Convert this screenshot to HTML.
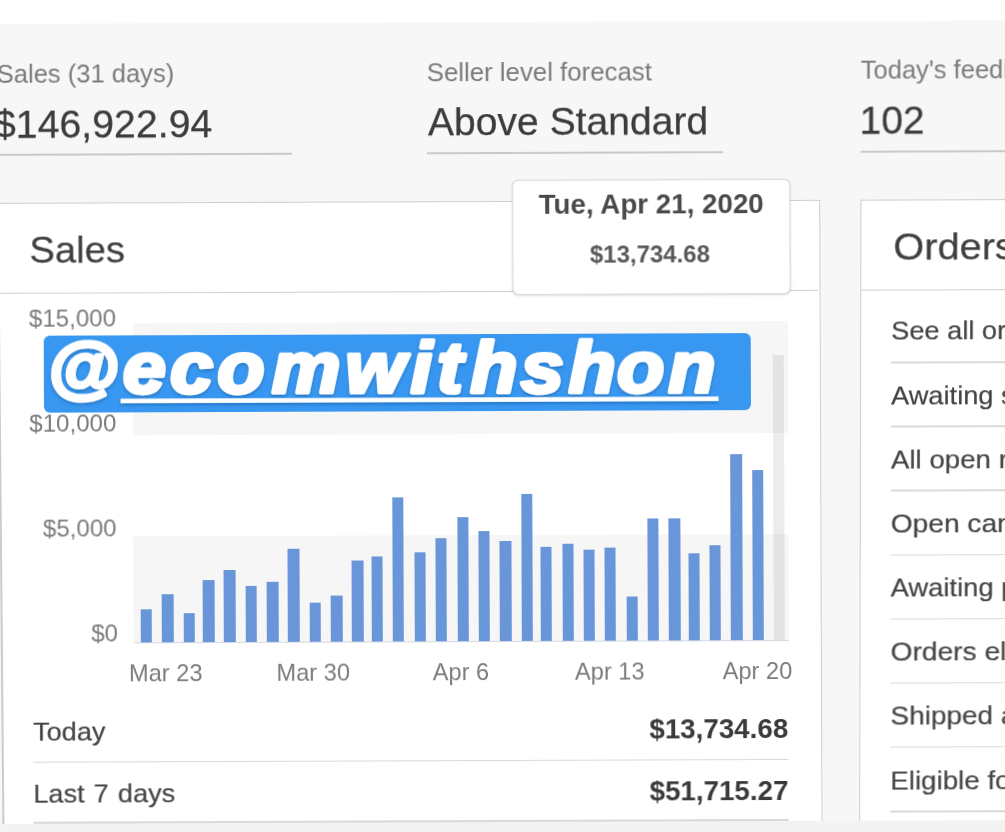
<!DOCTYPE html>
<html lang="en">
<head>
<meta charset="utf-8">
<title>Seller Hub - Sales</title>
<style>
html,body{margin:0;padding:0}
body{width:1005px;height:832px;overflow:hidden;background:#f7f7f7;position:relative;font-family:"Liberation Sans",Arial,Helvetica,sans-serif}
/* the reference is a slightly tilted photo: left part rotated, right column sheared */
.plane{position:absolute;left:0;top:0;width:1005px;height:832px;transform-origin:502.5px 416px;filter:blur(0.45px)}
#left{transform:rotate(-0.21deg)}
#right{transform:matrix(1,-0.003665,-0.002,1,0,0);clip-path:inset(-40px -60px -40px 841px)}
.plane *{position:absolute;box-sizing:border-box}
.plane i{font-style:normal;display:block}
.plane header,.plane .chart,.plane .totals{left:0;top:0;width:1005px;height:832px}
.topstrip{left:-30px;top:-30px;width:1065px;height:51.7px;background:#fff}
.botstrip{left:-30px;top:822.1px;width:1065px;height:40px;background:#f3f3f3}
.t{left:calc(var(--x)*1px);top:calc(var(--y)*1px - 0.3465em);line-height:0;white-space:nowrap;margin:0;font-weight:normal;transform-origin:0 50%;transform:scaleX(var(--sx,1.02))}
.t.r{left:auto;right:calc(1005px - var(--x)*1px);transform-origin:100% 50%}
.t.c{transform-origin:50% 50%;transform:translateX(-50%) scaleX(var(--sx,1.02))}
.lbl{font-size:26.2px;color:#7a7a7a;--sx:0.975}
.val{font-size:38.5px;color:#3c3c3c;-webkit-text-stroke:0.25px #3c3c3c}
.ul{height:1.5px;background:#c9c9c9}
.card{background:#fff;border:1.6px solid #cecece}
.hl{height:1.5px;background:#d9d9d9}
.h2{font-size:37.5px;color:#3f3f3f;-webkit-text-stroke:0.25px #3f3f3f}
.ax{font-size:23.6px;color:#7c7c7c}
.ax.c{--sx:1.0}
.row{font-size:26.3px;color:#444;word-spacing:1.6px;--sx:1.03;-webkit-text-stroke:0.2px #444}
.amt{font-size:27.2px;color:#3a3a3a;font-weight:bold !important}
.band{background:#f6f6f6}
.bar{width:11.4px;background:#6896d8}
.bar.g{background:rgba(0,0,0,0.075)}
.tip{background:#fff;border-radius:6px;border:1px solid #dcdcdc;box-shadow:0 1px 3px rgba(0,0,0,0.13),0 0 1px rgba(0,0,0,0.2)}
.tt{font-size:26.8px;color:#4a4a4a;font-weight:bold !important;--sx:1.035}
.tv{font-size:24px;color:#595959;font-weight:bold !important}
.lb{position:absolute;left:0.2px;top:190px;width:2.2px;height:634px;background:#cbcbcb;box-shadow:-5px 0 0 3px #f7f7f7;transform-origin:50% 100%;transform:translateX(2.4px) rotate(-0.5deg)}
.wm{background:#3897f0;border-radius:6px}
</style>
</head>
<body>

<!-- left / centre: summary, Sales card, chart -->
<div class="plane" id="left">
  <div class="topstrip"></div>

  <header>
    <span class="t lbl" style="--x:-2.5;--y:80.7">Sales (31 days)</span>
    <span class="t val" style="--x:-5;--y:136.2">$146,922.94</span>
    <i class="ul" style="left:-30px;top:152px;width:322.5px"></i>

    <span class="t lbl" style="--x:428;--y:80.9;--sx:0.985">Seller level forecast</span>
    <span class="t val" style="--x:428.5;--y:135.6;--sx:1.015">Above Standard</span>
    <i class="ul" style="left:427.5px;top:152px;width:296px"></i>
  </header>

  <section class="card" style="left:-5px;top:200.9px;width:826.2px;height:700px"></section>
  <i class="hl" style="left:-5px;top:290.5px;width:824px;background:#d0d0d0"></i>
  <h2 class="t h2" style="--x:30;--y:261">Sales</h2>

  <div class="chart">
    <i class="band" style="left:133.2px;top:321.7px;width:655.3px;height:112.8px"></i>
    <i class="band" style="left:133.2px;top:535px;width:655.3px;height:106.2px"></i>
    <i class="hl" style="left:133.2px;top:640.7px;width:655.3px;background:#d4d8e2"></i>
    <span class="t r ax" style="--x:116.3;--y:325.2">$15,000</span>
    <span class="t r ax" style="--x:116.3;--y:430.4">$10,000</span>
    <span class="t r ax" style="--x:116.3;--y:534.7">$5,000</span>
    <span class="t r ax" style="--x:117;--y:640.4">$0</span>
    <i class="bar" style="left:139.9px;top:608.0px;height:33.2px"></i>
    <i class="bar" style="left:161.4px;top:592.5px;height:48.7px"></i>
    <i class="bar" style="left:182.6px;top:612.1px;height:29.1px"></i>
    <i class="bar" style="left:202.2px;top:578.9px;height:62.3px"></i>
    <i class="bar" style="left:223.2px;top:569.3px;height:71.9px"></i>
    <i class="bar" style="left:244.7px;top:584.7px;height:56.5px"></i>
    <i class="bar" style="left:266.2px;top:580.8px;height:60.4px"></i>
    <i class="bar" style="left:287.4px;top:548.0px;height:93.2px"></i>
    <i class="bar" style="left:308.9px;top:602.3px;height:38.9px"></i>
    <i class="bar" style="left:330.4px;top:594.7px;height:46.5px"></i>
    <i class="bar" style="left:351.4px;top:559.9px;height:81.3px"></i>
    <i class="bar" style="left:371.0px;top:555.8px;height:85.4px"></i>
    <i class="bar" style="left:392.1px;top:497.4px;height:143.8px"></i>
    <i class="bar" style="left:413.8px;top:552.0px;height:89.2px"></i>
    <i class="bar" style="left:435.0px;top:538.4px;height:102.8px"></i>
    <i class="bar" style="left:456.5px;top:517.3px;height:123.9px"></i>
    <i class="bar" style="left:477.7px;top:530.7px;height:110.5px"></i>
    <i class="bar" style="left:499.3px;top:540.5px;height:100.7px"></i>
    <i class="bar" style="left:520.5px;top:493.8px;height:147.4px"></i>
    <i class="bar" style="left:540.1px;top:546.6px;height:94.6px"></i>
    <i class="bar" style="left:561.6px;top:544.2px;height:97.0px"></i>
    <i class="bar" style="left:582.8px;top:550.2px;height:91.0px"></i>
    <i class="bar" style="left:604.0px;top:548.1px;height:93.1px"></i>
    <i class="bar" style="left:625.8px;top:596.6px;height:44.6px"></i>
    <i class="bar" style="left:646.7px;top:519.2px;height:122.0px"></i>
    <i class="bar" style="left:668.4px;top:519.3px;height:121.9px"></i>
    <i class="bar" style="left:687.7px;top:554.0px;height:87.2px"></i>
    <i class="bar" style="left:709.1px;top:546.3px;height:94.9px"></i>
    <i class="bar" style="left:730.4px;top:454.9px;height:186.3px"></i>
    <i class="bar" style="left:751.8px;top:470.5px;height:170.7px"></i>
    <i class="bar g" style="left:772.9px;top:355.8px;height:285.4px"></i>
    <span class="t c ax" style="--x:164.8;--y:680">Mar 23</span>
    <span class="t c ax" style="--x:312.3;--y:680">Mar 30</span>
    <span class="t c ax" style="--x:460;--y:680">Apr 6</span>
    <span class="t c ax" style="--x:608.8;--y:680">Apr 13</span>
    <span class="t c ax" style="--x:756.5;--y:680">Apr 20</span>
  </div>

  <div class="totals">
    <span class="t row" style="--x:31.5;--y:739">Today</span>
    <span class="t r amt" style="--x:787.3;--y:739.1">$13,734.68</span>
    <i class="hl" style="left:31.8px;top:759.5px;width:755px"></i>
    <span class="t row" style="--x:31.7;--y:801.1">Last 7 days</span>
    <span class="t r amt" style="--x:787.3;--y:801.2">$51,715.27</span>
    <i class="hl" style="left:31.8px;top:820.2px;width:755px"></i>
  </div>

  <!-- chart tooltip -->
  <div class="tip" style="left:513px;top:180.2px;width:278px;height:114.6px"></div>
  <span class="t c tt" style="--x:651.5;--y:214.5">Tue, Apr 21, 2020</span>
  <span class="t c tv" style="--x:650.5;--y:263.2;--sx:1.0">$13,734.68</span>

  <!-- story sticker overlay -->
  <div class="wm" style="left:44.2px;top:333.6px;width:706.5px;height:77.6px"></div>
  <svg style="left:0;top:300px;width:1005px;height:140px;overflow:visible" viewBox="0 300 1005 140" role="img" aria-label="@ecomwithshon">
    <defs><filter id="wsh" x="-5%" y="-20%" width="110%" height="150%"><feDropShadow dx="0" dy="2" stdDeviation="1.6" flood-color="#0a3a78" flood-opacity="0.35"/></filter></defs>
    <g filter="url(#wsh)">
      <rect x="120.6" y="397.3" width="598" height="4.6" fill="#fff"/>
      <text transform="rotate(0.13 700 393) scale(1.07 1)" y="392.8" x="44.9 115.0 159.1 203.2 254.3 322.8 383.9 408.6 439.7 486.9 531.6 576.9 624.8" dy="-1.8 1.8" font-family="Liberation Sans, Arial, Helvetica, sans-serif" font-size="72" font-weight="bold" font-style="italic" fill="#fff" stroke="#fff" stroke-width="4" stroke-linejoin="round"><tspan font-size="68">@</tspan>ecomwithshon</text>
    </g>
  </svg>

  <div class="botstrip"></div>
</div>

<!-- right column: feedback summary + Orders card (cropped by the photo edge) -->
<div class="plane" id="right">
  <div class="topstrip"></div>
  <span class="t lbl" style="--x:859.5;--y:80.5">Today's feedback</span>
  <span class="t val" style="--x:859;--y:135.8;--sx:1.01">102</span>
  <i class="ul" style="left:860px;top:152.3px;width:200px"></i>

  <section class="card" style="left:859.8px;top:200.8px;width:300px;height:700px"></section>
  <i class="hl" style="left:861px;top:290.5px;width:200px;background:#d0d0d0"></i>
  <h2 class="t h2" style="--x:892.5;--y:260.8;--sx:1.06">Orders</h2>
    <span class="t row" style="--x:891.2;--y:341.6;--sx:1.035;word-spacing:0">See all orders</span>
    <i class="hl" style="left:890.8px;top:363.1px;width:160px"></i>
    <span class="t row" style="--x:891.2;--y:405.8;--sx:1.036;word-spacing:0">Awaiting shipment</span>
    <i class="hl" style="left:890.8px;top:427.2px;width:160px"></i>
    <span class="t row" style="--x:891.2;--y:469.9;--sx:1.052;word-spacing:0">All open returns/replacements</span>
    <i class="hl" style="left:890.8px;top:491.3px;width:160px"></i>
    <span class="t row" style="--x:891.2;--y:534.1;--sx:1.069;word-spacing:0">Open cancellations</span>
    <i class="hl" style="left:890.8px;top:555.5px;width:160px"></i>
    <span class="t row" style="--x:891.2;--y:598.2;--sx:1.04;word-spacing:0">Awaiting payment</span>
    <i class="hl" style="left:890.8px;top:619.6px;width:160px"></i>
    <span class="t row" style="--x:891.2;--y:662.4;--sx:1.071;word-spacing:0">Orders eligible for feedback</span>
    <i class="hl" style="left:890.8px;top:683.8px;width:160px"></i>
    <span class="t row" style="--x:891.2;--y:726.5;--sx:1.064;word-spacing:0">Shipped and awaiting feedback</span>
    <i class="hl" style="left:890.8px;top:747.9px;width:160px"></i>
    <span class="t row" style="--x:891.2;--y:790.7;--sx:1.055;word-spacing:0">Eligible for unpaid item case</span>
    <i class="hl" style="left:890.8px;top:812.0px;width:160px"></i>
  <div class="botstrip"></div>
</div>

<div class="lb"></div>
</body>
</html>
